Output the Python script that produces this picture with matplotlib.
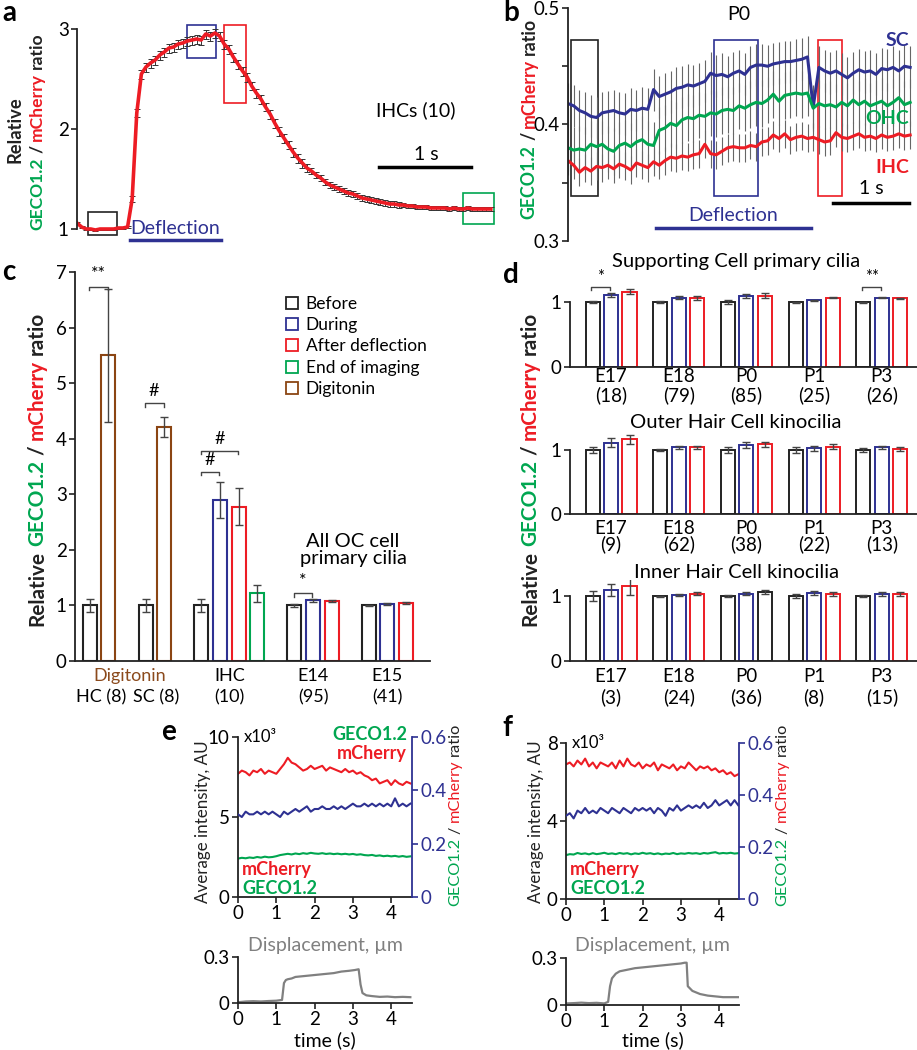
import numpy as np
import matplotlib
matplotlib.use('Agg')
import matplotlib.pyplot as plt
from matplotlib.patches import Rectangle
from matplotlib.lines import Line2D

W, H = 917, 1050
plt.rcParams['font.family'] = ['Lato', 'DejaVu Sans']
plt.rcParams['axes.linewidth'] = 1.3
plt.rcParams['axes.edgecolor'] = '#222222'

BLACK = '#222222'
RED = '#ed1c24'
BLUE = '#2e3192'
GREEN = '#00a650'
BROWN = '#8b4513'
GRAY = '#808080'

# ---- panel a: IHC ratio trace (mean +/- sem)
a_time = np.round(np.arange(91) * 0.05, 2)
a_ratio = [1.06, 1.02, 1.00, 1.00, 0.99, 1.00, 1.00, 1.00, 1.00, 1.01,
           1.01, 1.02, 1.30, 2.16, 2.55, 2.62, 2.66, 2.69, 2.74, 2.77,
           2.81, 2.82, 2.85, 2.86, 2.88, 2.89, 2.90, 2.89, 2.95, 2.93,
           2.96, 2.93, 2.85, 2.80, 2.72, 2.65, 2.58, 2.52, 2.43, 2.36,
           2.30, 2.22, 2.15, 2.06, 1.98, 1.91, 1.84, 1.77, 1.71, 1.66,
           1.61, 1.58, 1.54, 1.51, 1.47, 1.44, 1.42, 1.40, 1.38, 1.36,
           1.35, 1.33, 1.31, 1.30, 1.29, 1.28, 1.27, 1.26, 1.25, 1.25,
           1.24, 1.24, 1.23, 1.23, 1.22, 1.22, 1.22, 1.21, 1.21, 1.21,
           1.21, 1.20, 1.21, 1.20, 1.20, 1.21, 1.20, 1.20, 1.20, 1.20,
           1.20]
a_err = [0.01] * 12 + [0.03, 0.04] + [0.045] * 18 + [0.045] * 19 + [0.03] * 20 + [0.02] * 20

# ---- panel b: P0 ratio traces
b_time = np.round(np.arange(61) * 0.075, 3)
b_sc = [0.418, 0.416, 0.412, 0.410, 0.407, 0.406, 0.410, 0.411, 0.412, 0.410,
        0.409, 0.413, 0.412, 0.414, 0.413, 0.430, 0.424, 0.426, 0.428, 0.431,
        0.432, 0.434, 0.433, 0.435, 0.437, 0.444, 0.442, 0.443, 0.441, 0.444,
        0.446, 0.443, 0.449, 0.451, 0.451, 0.450, 0.452, 0.453, 0.454, 0.454,
        0.455, 0.456, 0.458, 0.415, 0.449, 0.446, 0.444, 0.446, 0.443, 0.440,
        0.444, 0.447, 0.445, 0.446, 0.443, 0.448, 0.447, 0.449, 0.446, 0.450,
        0.449]
b_ohc = [0.380, 0.378, 0.379, 0.378, 0.383, 0.381, 0.383, 0.379, 0.377, 0.382,
         0.384, 0.381, 0.385, 0.387, 0.383, 0.382, 0.395, 0.397, 0.401, 0.399,
         0.404, 0.406, 0.405, 0.408, 0.407, 0.410, 0.409, 0.412, 0.413, 0.412,
         0.416, 0.414, 0.417, 0.419, 0.418, 0.421, 0.426, 0.420, 0.425, 0.426,
         0.427, 0.426, 0.427, 0.414, 0.418, 0.416, 0.417, 0.415, 0.419, 0.416,
         0.421, 0.417, 0.420, 0.416, 0.418, 0.420, 0.416, 0.419, 0.423, 0.417,
         0.419]
b_ihc = [0.369, 0.365, 0.359, 0.363, 0.360, 0.364, 0.363, 0.365, 0.362, 0.366,
         0.364, 0.361, 0.367, 0.365, 0.363, 0.368, 0.365, 0.369, 0.372, 0.371,
         0.373, 0.372, 0.374, 0.375, 0.383, 0.375, 0.374, 0.377, 0.380, 0.381,
         0.380, 0.380, 0.382, 0.381, 0.385, 0.386, 0.391, 0.388, 0.392, 0.387,
         0.389, 0.390, 0.388, 0.389, 0.387, 0.385, 0.386, 0.393, 0.389, 0.388,
         0.390, 0.392, 0.389, 0.390, 0.388, 0.391, 0.389, 0.390, 0.392, 0.390,
         0.391]
b_err = {'SC': 0.018, 'OHC': 0.02, 'IHC': 0.012}

# ---- panel c: bar chart
c_pos = [1, 2, 4, 5, 7, 8, 9, 10, 12, 13, 14, 16, 17, 18]
c_mean = [1.0, 5.5, 1.0, 4.22, 1.0, 2.9, 2.78, 1.22, 1.0, 1.09, 1.08, 1.0, 1.03, 1.05]
c_err = [0.12, 1.2, 0.11, 0.18, 0.11, 0.33, 0.33, 0.15, 0.02, 0.02, 0.02, 0.01, 0.015, 0.015]
c_cond = ['Before', 'Digitonin', 'Before', 'Digitonin', 'Before', 'During', 'After deflection',
          'End of imaging', 'Before', 'During', 'After deflection', 'Before', 'During', 'After deflection']
cond_colors = {'Before': BLACK, 'During': BLUE, 'After deflection': RED,
               'End of imaging': GREEN, 'Digitonin': BROWN}
c_sig_pairs = [(1, 2), (4, 5), (7, 8), (7, 9), (12, 13)]
c_sig_y = [6.74, 4.64, 3.40, 3.78, 1.22]
c_sig_text = ['**', '#', '#', '#', '*']

# ---- panel d: three bar panels
d_groups = ['E17', 'E18', 'P0', 'P1', 'P3']
d_panels = [
    dict(title='Supporting Cell primary cilia', n=['(18)', '(79)', '(85)', '(25)', '(26)'],
         during=[1.11, 1.07, 1.10, 1.03, 1.07], after=[1.16, 1.07, 1.10, 1.07, 1.06],
         e_before=[0.02, 0.02, 0.03, 0.01, 0.005], e_during=[0.03, 0.02, 0.03, 0.01, 0.01],
         e_after=[0.04, 0.03, 0.04, 0.01, 0.01], after_col=[RED] * 5),
    dict(title='Outer Hair Cell kinocilia', n=['(9)', '(62)', '(38)', '(22)', '(13)'],
         during=[1.11, 1.04, 1.08, 1.03, 1.04], after=[1.17, 1.04, 1.09, 1.05, 1.02],
         e_before=[0.05, 0.01, 0.04, 0.04, 0.03], e_during=[0.07, 0.02, 0.05, 0.04, 0.03],
         e_after=[0.07, 0.02, 0.04, 0.04, 0.03], after_col=[RED] * 5),
    dict(title='Inner Hair Cell kinocilia', n=['(3)', '(24)', '(36)', '(8)', '(15)'],
         during=[1.10, 1.02, 1.04, 1.05, 1.04], after=[1.15, 1.04, 1.07, 1.04, 1.04],
         e_before=[0.08, 0.01, 0.02, 0.03, 0.02], e_during=[0.09, 0.02, 0.02, 0.03, 0.03],
         e_after=[0.13, 0.02, 0.03, 0.03, 0.03], after_col=[RED, RED, BLACK, RED, RED]),
]

# ---- panels e, f: single cilium traces
ef_time = np.round(np.arange(46) * 0.1, 1)
e_mcherry = [7.7, 7.9, 7.8, 7.6, 7.9, 7.8, 8.0, 7.7, 7.9, 7.8,
             7.7, 8.0, 8.3, 8.7, 8.4, 8.3, 8.1, 7.9, 8.0, 8.2,
             8.0, 8.1, 8.2, 7.9, 8.1, 8.0, 7.9, 7.8, 8.0, 7.8,
             7.9, 7.7, 7.8, 7.6, 7.5, 7.3, 7.4, 7.1, 7.2, 7.3,
             7.0, 7.3, 7.1, 7.0, 7.2, 7.1]
e_ratio = [0.31, 0.30, 0.32, 0.31, 0.31, 0.32, 0.31, 0.32, 0.31, 0.32,
           0.31, 0.30, 0.32, 0.31, 0.32, 0.33, 0.32, 0.33, 0.34, 0.32,
           0.33, 0.33, 0.34, 0.33, 0.33, 0.34, 0.33, 0.34, 0.33, 0.34,
           0.35, 0.34, 0.34, 0.35, 0.34, 0.35, 0.34, 0.35, 0.34, 0.35,
           0.34, 0.37, 0.34, 0.35, 0.34, 0.35]
e_geco = [2.40, 2.45, 2.42, 2.47, 2.44, 2.50, 2.46, 2.52, 2.48, 2.50,
          2.55, 2.62, 2.66, 2.70, 2.66, 2.72, 2.68, 2.74, 2.70, 2.76,
          2.72, 2.70, 2.74, 2.69, 2.72, 2.68, 2.71, 2.67, 2.70, 2.66,
          2.69, 2.64, 2.67, 2.62, 2.60, 2.63, 2.57, 2.60, 2.55, 2.58,
          2.54, 2.57, 2.52, 2.56, 2.51, 2.54]
f_mcherry = [6.9, 7.0, 6.8, 7.1, 6.9, 7.2, 6.8, 7.0, 6.7, 7.0,
             6.9, 6.8, 7.0, 6.7, 7.1, 6.8, 7.2, 6.9, 6.8, 7.0,
             6.7, 6.9, 6.8, 7.0, 6.6, 6.9, 6.8, 6.7, 6.9, 6.6,
             6.8, 6.7, 7.0, 6.8, 6.6, 6.8, 6.7, 6.8, 6.6, 6.7,
             6.5, 6.6, 6.4, 6.5, 6.3, 6.4]
f_ratio = [0.32, 0.33, 0.31, 0.34, 0.33, 0.35, 0.33, 0.34, 0.33, 0.35,
           0.34, 0.33, 0.35, 0.34, 0.33, 0.35, 0.34, 0.33, 0.35, 0.34,
           0.35, 0.34, 0.35, 0.33, 0.35, 0.34, 0.32, 0.35, 0.34, 0.36,
           0.34, 0.35, 0.36, 0.35, 0.36, 0.35, 0.37, 0.35, 0.36, 0.38,
           0.36, 0.37, 0.38, 0.36, 0.38, 0.36]
f_geco = [2.25, 2.30, 2.28, 2.36, 2.31, 2.34, 2.29, 2.35, 2.30, 2.33,
          2.37, 2.31, 2.34, 2.30, 2.36, 2.32, 2.35, 2.29, 2.34, 2.31,
          2.37, 2.32, 2.35, 2.30, 2.34, 2.29, 2.33, 2.31, 2.36, 2.30,
          2.34, 2.32, 2.36, 2.33, 2.35, 2.31, 2.36, 2.33, 2.37, 2.40,
          2.33, 2.36, 2.34, 2.37, 2.33, 2.35]
e_disp_t = [0.0, 0.2, 0.4, 0.6, 0.8, 1.0, 1.15, 1.2, 1.25, 1.3, 1.4, 1.5, 1.7, 1.9, 2.1,
            2.3, 2.5, 2.7, 2.9, 3.05, 3.15, 3.2, 3.25, 3.35, 3.5, 3.7, 3.9, 4.1, 4.3, 4.5]
e_disp = [0.005, 0.01, 0.012, 0.01, 0.013, 0.015, 0.02, 0.13, 0.15, 0.155, 0.16, 0.17, 0.175, 0.18, 0.185,
          0.19, 0.195, 0.205, 0.21, 0.215, 0.22, 0.12, 0.065, 0.05, 0.045, 0.04, 0.042, 0.038, 0.04, 0.038]
f_disp_t = [0.0, 0.2, 0.4, 0.6, 0.8, 1.0, 1.1, 1.15, 1.2, 1.3, 1.4, 1.6, 1.8, 2.0, 2.2,
            2.4, 2.6, 2.8, 3.0, 3.1, 3.15, 3.18, 3.3, 3.5, 3.7, 3.9, 4.1, 4.3, 4.5]
f_disp = [0.01, 0.012, 0.015, 0.012, 0.014, 0.01, 0.02, 0.12, 0.17, 0.2, 0.215, 0.225, 0.235, 0.24, 0.245,
          0.25, 0.255, 0.26, 0.265, 0.27, 0.27, 0.12, 0.09, 0.07, 0.06, 0.055, 0.05, 0.05, 0.05]


fig = plt.figure(figsize=(W / 100, H / 100), dpi=100)


def rect(l, t, r, b):
    # pixel box (left, top, right, bottom) -> figure fraction
    return [l / W, 1 - b / H, (r - l) / W, (b - t) / H]


def ftext(x, y, s, **kw):
    return fig.text(x / W, 1 - y / H, s, **kw)


def vlabel(x, yc, parts, length, weight='bold'):
    # rotated label made of differently coloured pieces, scaled to a pixel length
    r = fig.canvas.get_renderer()

    def measure(size):
        ws = []
        for s, c in parts:
            t = fig.text(0, 0, s, fontsize=size, fontweight=weight)
            ws.append(t.get_window_extent(r).width)
            t.remove()
        return ws, 0.33 * size
    ws, gap = measure(12)
    size = 12 * length / (sum(ws) + gap * (len(parts) - 1))
    ws, gap = measure(size)
    total = sum(ws) + gap * (len(parts) - 1)
    y = (H - yc) - total / 2
    for (s, c), w in zip(parts, ws):
        fig.text(x / W, y / H, s, rotation=90, ha='center', va='bottom', color=c,
                 fontsize=size, fontweight=weight)
        y += w + gap


def style(ax, size):
    ax.spines['top'].set_visible(False)
    ax.spines['right'].set_visible(False)
    ax.tick_params(direction='out', length=4, width=1.2, labelsize=size, pad=2, color=BLACK)


def box(ax, x0, x1, y0, y1, color):
    ax.add_patch(Rectangle((x0, y0), x1 - x0, y1 - y0, fill=False, ec=color, lw=1.2, clip_on=False))


ratio_parts = [('GECO1.2', GREEN), ('/', BLACK), ('mCherry', RED), ('ratio', BLACK)]

# ================= panel a
axa = fig.add_axes(rect(77, 19, 500, 247))
style(axa, 13.5)
axa.errorbar(a_time, a_ratio, yerr=a_err, fmt='none', ecolor='#333333', elinewidth=0.7,
             capsize=2.2, capthick=0.7)
axa.plot(a_time, a_ratio, color=RED, lw=2.6)
axa.set_xlim(0, 4.6)
axa.set_ylim(0.82, 3.1)
axa.spines['bottom'].set_visible(False)
axa.spines['left'].set_bounds(1, 3)
axa.set_xticks([])
axa.set_yticks([1, 2, 3])
box(axa, 0.12, 0.43, 0.94, 1.17, BLACK)
box(axa, 1.20, 1.51, 2.71, 3.04, BLUE)
box(axa, 1.60, 1.84, 2.26, 3.04, RED)
box(axa, 4.20, 4.53, 1.05, 1.36, GREEN)
axa.plot([0.58, 1.57], [0.89, 0.89], color=BLUE, lw=2.5, clip_on=False)
axa.text(1.07, 1.0, 'Deflection', color=BLUE, fontsize=14, ha='center', va='center')
axa.plot([3.28, 4.28], [1.62, 1.62], color='black', lw=2.5)
axa.text(3.80, 1.74, '1 s', fontsize=14, ha='center', va='center')
axa.text(3.68, 2.19, 'IHCs (10)', fontsize=14, ha='center', va='center')
vlabel(15, 130, [('Relative', BLACK)], 66)
vlabel(37, 131, ratio_parts, 197)

# ================= panel b
axb = fig.add_axes(rect(568, 8, 917, 241))
style(axb, 13.5)
for vals, key, col in [(b_sc, 'SC', BLUE), (b_ohc, 'OHC', GREEN), (b_ihc, 'IHC', RED)]:
    axb.errorbar(b_time, vals, yerr=b_err[key], fmt='none', ecolor='#666666', elinewidth=0.8)
for vals, key, col in [(b_sc, 'SC', BLUE), (b_ohc, 'OHC', GREEN), (b_ihc, 'IHC', RED)]:
    axb.plot(b_time, vals, color=col, lw=2.2)
axb.set_xlim(0, 4.59)
axb.set_ylim(0.3, 0.5)
axb.spines['bottom'].set_visible(False)
axb.set_xticks([])
axb.set_yticks([0.3, 0.35, 0.4, 0.45, 0.5])
axb.set_yticklabels(['0.3', '', '0.4', '', '0.5'])
box(axb, 0.04, 0.39, 0.3386, 0.4725, BLACK)
box(axb, 1.92, 2.50, 0.3386, 0.4725, BLUE)
box(axb, 3.29, 3.60, 0.3386, 0.4725, RED)
axb.plot([1.16, 3.20], [0.311, 0.311], color=BLUE, lw=2.5)
axb.text(2.17, 0.322, 'Deflection', color=BLUE, fontsize=14, ha='center', va='center')
axb.plot([3.49, 4.49], [0.333, 0.333], color='black', lw=2.5)
axb.text(3.99, 0.345, '1 s', fontsize=14, ha='center', va='center')
axb.text(2.24, 0.494, 'P0', fontsize=14, ha='center', va='center')
axb.text(4.49, 0.4725, 'SC', color=BLUE, fontsize=14, fontweight='bold', ha='right', va='center')
axb.text(4.49, 0.405, 'OHC', color=GREEN, fontsize=14, fontweight='bold', ha='right', va='center')
axb.text(4.49, 0.363, 'IHC', color=RED, fontsize=14, fontweight='bold', ha='right', va='center')
vlabel(529, 118, ratio_parts, 200)

# ================= panel c
axc = fig.add_axes(rect(75, 261, 430, 661))
style(axc, 13.5)
for p, m, e, cond in zip(c_pos, c_mean, c_err, c_cond):
    axc.bar(p, m, 0.75, color='white', edgecolor=cond_colors[cond], lw=1.5)
    axc.errorbar(p, m, yerr=e, fmt='none', ecolor='#444444', elinewidth=1, capsize=3, capthick=1)
axc.set_xlim(0.2, 19.29)
axc.set_ylim(0, 7.2)
axc.spines['left'].set_bounds(0, 7)
axc.set_yticks(range(8))
axc.set_xticks([])
for (x1, x2), y, s in zip(c_sig_pairs, c_sig_y, c_sig_text):
    axc.plot([x1 - 0.05, x1 - 0.05, x2 - 0.03, x2 - 0.03], [y - 0.06, y, y, y - 0.06],
             color='#444444', lw=1, clip_on=False)
    axc.text((x1 + x2) / 2 - 0.04, y + 0.08, s, ha='center', va='bottom', fontsize=13)
c_group_x = [1.6, 4.55, 8.5, 13, 17]
c_group_top = ['', '', 'IHC', 'E14', 'E15']
c_group_bot = ['HC (8)', 'SC (8)', '(10)', '(95)', '(41)']
for x, t1, t2 in zip(c_group_x, c_group_top, c_group_bot):
    axc.annotate(t1, (x, 0), xycoords=('data', 'axes fraction'), xytext=(0, -15 * 0.72),
                 textcoords='offset points', ha='center', va='center', fontsize=13)
    axc.annotate(t2, (x, 0), xycoords=('data', 'axes fraction'), xytext=(0, -36 * 0.72),
                 textcoords='offset points', ha='center', va='center', fontsize=13)
axc.annotate('Digitonin', (3.16, 0), xycoords=('data', 'axes fraction'), xytext=(0, -15 * 0.72),
             textcoords='offset points', ha='center', va='center', fontsize=13, color='#8b4a1c')
axc.text(15.15, 2.0, 'All OC cell\nprimary cilia', ha='center', va='center', fontsize=14.5,
         linespacing=1.05)
handles = [Line2D([], [], marker='s', ls='none', mfc='white', mec=cond_colors[k], mew=1.3, ms=8)
           for k in ['Before', 'During', 'After deflection', 'End of imaging', 'Digitonin']]
fig.legend(handles, ['Before', 'During', 'After deflection', 'End of imaging', 'Digitonin'],
           loc='upper left', bbox_to_anchor=(283 / W, 1 - 296 / H), frameon=False, fontsize=12.5,
           handletextpad=0.3, labelspacing=0.3, borderpad=0, borderaxespad=0, handlelength=1.0)
vlabel(37, 469, [('Relative', BLACK)] + ratio_parts, 313)

# ================= panel d
d_boxes = [(286, 367), (434, 514), (580, 661)]
d_title_y = [262, 422, 572]
d_lab_off = [(10, 28), (14, 30), (16, 36)]
gx = np.arange(1, 6)
for spec, (top, bot), ty, (o1, o2) in zip(d_panels, d_boxes, d_title_y, d_lab_off):
    ax = fig.add_axes(rect(570, top, 917, bot))
    style(ax, 13.5)
    ax.bar(gx - 0.273, [1] * 5, 0.207, color='white', edgecolor=BLACK, lw=1.4)
    ax.bar(gx, spec['during'], 0.207, color='white', edgecolor=BLUE, lw=1.4)
    ax.bar(gx + 0.273, spec['after'], 0.207, color='white', edgecolor=spec['after_col'], lw=1.4)
    ax.errorbar(gx - 0.273, [1] * 5, yerr=spec['e_before'], fmt='none', ecolor='#444444',
                elinewidth=1, capsize=3, capthick=1)
    ax.errorbar(gx, spec['during'], yerr=spec['e_during'], fmt='none', ecolor='#444444',
                elinewidth=1, capsize=3, capthick=1)
    ax.errorbar(gx + 0.273, spec['after'], yerr=spec['e_after'], fmt='none', ecolor='#444444',
                elinewidth=1, capsize=3, capthick=1)
    ax.set_xlim(0.394, 5.52)
    ax.set_ylim(0, 1.25)
    ax.spines['left'].set_bounds(0, 1)
    ax.set_yticks([0, 1])
    ax.set_xticks([])
    for x, g, n in zip(gx, d_groups, spec['n']):
        ax.annotate(g, (x, 0), xycoords=('data', 'axes fraction'), xytext=(0, -o1 * 0.72),
                    textcoords='offset points', ha='center', va='center', fontsize=13.5)
        ax.annotate(n, (x, 0), xycoords=('data', 'axes fraction'), xytext=(0, -o2 * 0.72),
                    textcoords='offset points', ha='center', va='center', fontsize=13.5)
    ftext(736, ty, spec['title'], ha='center', va='center', fontsize=14.5)
    if spec['title'].startswith('Supporting'):
        for gi, s in [(1, '*'), (5, '**')]:
            ax.plot([gi - 0.296, gi - 0.296, gi - 0.015, gi - 0.015], [1.19, 1.23, 1.23, 1.19],
                    color='#444444', lw=1, clip_on=False)
            ax.text(gi - 0.15, 1.26, s, ha='center', va='bottom', fontsize=12)
vlabel(530, 469, [('Relative', BLACK)] + ratio_parts, 313)

# ================= panels e, f
ef_specs = [
    dict(l=238, r=412, t=737, b=897, top=10, ticks=[0, 5, 10], red=e_mcherry, green=e_geco,
         ratio=e_ratio, dt=957, db=1003, dispt=e_disp_t, disp=e_disp, letter=(168, 732),
         ylab_x=203, rlab_x=455, upper=True),
    dict(l=566, r=739, t=743, b=899, top=8, ticks=[0, 4, 8], red=f_mcherry, green=f_geco,
         ratio=f_ratio, dt=958, db=1005, dispt=f_disp_t, disp=f_disp, letter=(507, 728),
         ylab_x=536, rlab_x=782, upper=False),
]
for sp, letter in zip(ef_specs, ['e', 'f']):
    ax = fig.add_axes(rect(sp['l'], sp['t'], sp['r'], sp['b']))
    style(ax, 13.5)
    ax.plot(ef_time, sp['red'], color=RED, lw=1.5)
    ax.plot(ef_time, sp['green'], color=GREEN, lw=1.5)
    xmax = (sp['r'] - sp['l']) / 38.3
    ax.set_xlim(0, xmax)
    ax.set_ylim(0, sp['top'])
    ax.set_yticks(sp['ticks'])
    ax.set_xticks([0, 1, 2, 3, 4])
    ax2 = ax.twinx()
    ax2.plot(ef_time, sp['ratio'], color=BLUE, lw=1.5)
    ax2.set_ylim(0, 0.6)
    ax2.set_xlim(0, xmax)
    ax2.set_yticks([0, 0.2, 0.4, 0.6])
    ax2.set_yticklabels(['0', '0.2', '0.4', '0.6'])
    for s in ['top', 'left', 'bottom']:
        ax2.spines[s].set_visible(False)
    ax2.spines['right'].set_color(BLUE)
    ax2.tick_params(axis='y', direction='out', length=4, width=1.2, labelsize=13.5, pad=2,
                    colors=BLUE)
    ftext(sp['l'] + 6, sp['t'], 'x10\u00b3', ha='left', va='center', fontsize=12)
    if sp['upper']:
        ftext(sp['r'] - 5, sp['t'] - 3, 'GECO1.2', ha='right', va='center', fontsize=13,
              fontweight='bold', color=GREEN)
        ftext(sp['r'] - 5, sp['t'] + 16, 'mCherry', ha='right', va='center', fontsize=13,
              fontweight='bold', color=RED)
    ftext(sp['l'] + 4, 870, 'mCherry', ha='left', va='center', fontsize=13,
          fontweight='bold', color=RED)
    ftext(sp['l'] + 4, 888, 'GECO1.2', ha='left', va='center', fontsize=13,
          fontweight='bold', color=GREEN)
    vlabel(sp['ylab_x'], 822, [('Average intensity, AU', BLACK)], 162, weight='normal')
    vlabel(sp['rlab_x'], 814, ratio_parts, 183, weight='normal')
    ftext(sp['letter'][0], sp['letter'][1], letter, fontsize=20, fontweight='bold',
          ha='center', va='center')

    axd = fig.add_axes(rect(sp['l'], sp['dt'], sp['r'], sp['db']))
    style(axd, 13.5)
    axd.plot(sp['dispt'], sp['disp'], color=GRAY, lw=1.6)
    axd.set_xlim(0, xmax)
    axd.set_ylim(0, 0.3)
    axd.set_yticks([0, 0.3])
    axd.set_yticklabels(['0', '0.3'])
    axd.set_xticks([0, 1, 2, 3, 4])
    cx = (sp['l'] + sp['r']) / 2
    ftext(cx, sp['dt'] - 12, 'Displacement, \u00b5m', ha='center', va='center', fontsize=14,
          color=GRAY)
    ftext(cx, 1040, 'time (s)', ha='center', va='center', fontsize=14)

# panel letters
for s, (x, y) in zip('abcd', [(9, 13), (511, 13), (9, 272), (511, 275)]):
    ftext(x, y, s, fontsize=20, fontweight='bold', ha='center', va='center')

fig.savefig('out.png', dpi=100)
